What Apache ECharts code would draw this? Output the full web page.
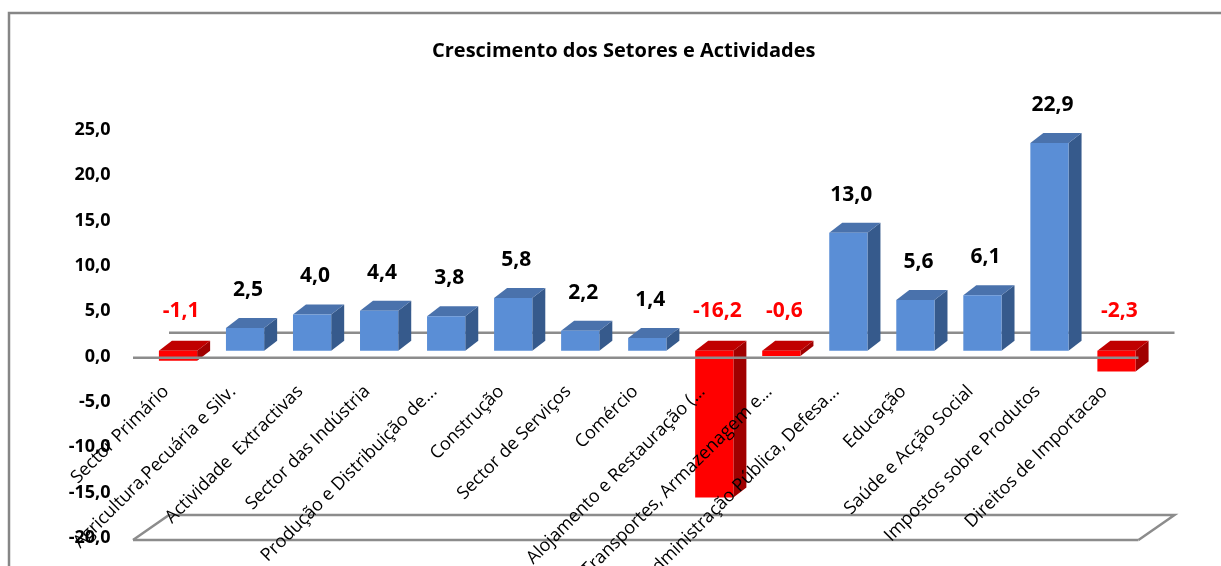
<!DOCTYPE html>
<html>
<head>
<meta charset="utf-8">
<style>html,body{margin:0;padding:0;background:#fff;}#c{width:1221px;height:566px;}</style>
<script src="https://cdn.jsdelivr.net/npm/echarts@6/dist/echarts.min.js"></script>
</head>
<body>
<div id="c"></div>
<script>
const chartTitle = 'Crescimento dos Setores e Actividades';
const categories = ['Sector Primário', 'Agricultura,Pecuária e Silv.', 'Actividade  Extractivas', 'Sector das Indústria', 'Produção e Distribuição de...', 'Construção', 'Sector de Serviços', 'Comércio', 'Alojamento e Restauração (...', 'Transportes, Armazenagem e...', 'Administração Pública, Defesa...', 'Educação', 'Saúde e Acção Social', 'Impostos sobre Produtos', 'Direitos de Importacao'];
const values = [-1.1, 2.5, 4.0, 4.4, 3.8, 5.8, 2.2, 1.4, -16.2, -0.6, 13.0, 5.6, 6.1, 22.9, -2.3];
const yMin = -20, yMax = 25, yStep = 5;

const fmt = v => v.toFixed(1).replace('.', ',');
const FONT = '"Open Sans", "Liberation Sans", sans-serif';

const chart = echarts.init(document.getElementById('c'));

function planeLines(api, which) {
  const c0 = api.coord([0, 0])[0];
  const cN = api.coord([categories.length - 1, 0])[0];
  const band = api.size([1, 0])[0];
  const xL = c0 - band / 2 - 11.5;
  const xR = cN + band / 2 - 11.5;
  const dX = 36, dY = -25;
  const yZero = api.coord([0, 0])[1] + 1;
  const yFloor = api.coord([0, yMin])[1] + 2;
  const st = { stroke: '#8c8c8c', lineWidth: 2.5, fill: null };
  const ch = [];
  if (which === 'back') {
    ch.push({ type: 'polyline', shape: { points: [[xL + dX, yZero + dY], [xR + dX, yZero + dY]] }, style: st });
    ch.push({ type: 'polyline', shape: { points: [[xL, yFloor], [xL + dX, yFloor + dY], [xR + dX, yFloor + dY], [xR, yFloor]] }, style: st });
  } else {
    ch.push({ type: 'polyline', shape: { points: [[xL, yZero], [xR, yZero]] }, style: st });
    ch.push({ type: 'polyline', shape: { points: [[xL, yFloor], [xR, yFloor]] }, style: st });
  }
  return { type: 'group', children: ch };
}

const option = {
  animation: false,
  backgroundColor: '#fff',
  title: {
    text: chartTitle, left: 427, top: 36,
    textStyle: { fontFamily: FONT, fontWeight: 'bold', fontSize: 20, color: '#000' }
  },
  graphic: [{
    type: 'rect', shape: { x: 9, y: 13, width: 1300, height: 700 },
    style: { fill: null, stroke: '#868686', lineWidth: 2.5 }, silent: true
  }],
  grid: { left: 144.5, right: 71, top: 130, bottom: 28, containLabel: false, outerBoundsMode: 'none' },
  xAxis: {
    type: 'category', data: categories,
    axisLine: { show: false }, axisTick: { show: false },
    axisLabel: { show: false }, splitLine: { show: false }
  },
  yAxis: {
    type: 'value', min: yMin, max: yMax, interval: yStep,
    axisLine: { show: false }, axisTick: { show: false }, splitLine: { show: false },
    axisLabel: {
      margin: 34, formatter: v => fmt(v),
      fontFamily: FONT, fontWeight: 'bold', fontSize: 18, color: '#000'
    }
  },
  series: [
    {
      type: 'custom', z: 1, data: [[0]], silent: true,
      renderItem: (p, api) => planeLines(api, 'back')
    },
    {
      type: 'custom', z: 2,
      data: values.map((v, i) => [i, v]),
      renderItem: (params, api) => {
        const i = api.value(0), v = api.value(1);
        const p0 = api.coord([i, 0]), p1 = api.coord([i, v]);
        const band = api.size([1, 0])[0];
        const w = band * 0.57;
        const dx = 13, dy = -10, lift = -6;
        const cx = p0[0];
        const x0 = cx - w / 2, x1 = cx + w / 2;
        const yb = p0[1] + lift, yt = p1[1] + lift;
        const top = Math.min(yb, yt), bot = Math.max(yb, yt);
        const pos = v >= 0;
        const cFront = pos ? '#5a8ed6' : '#ff0000';
        const cSide = pos ? '#365a8c' : '#a00000';
        const cTop = pos ? '#4a72ac' : '#c00000';
        const labelY = pos ? yt - 38 : yb - 40;
        return {
          type: 'group',
          children: [
            { type: 'polygon', shape: { points: [[x1, top], [x1 + dx, top + dy], [x1 + dx, bot + dy], [x1, bot]] }, style: { fill: cSide } },
            { type: 'polygon', shape: { points: [[x0, top], [x0 + dx, top + dy], [x1 + dx, top + dy], [x1, top]] }, style: { fill: cTop } },
            { type: 'rect', shape: { x: x0, y: top, width: w, height: bot - top }, style: { fill: cFront } },
            { type: 'text', x: cx + 3, y: labelY, style: {
                text: fmt(v), textAlign: 'center', textVerticalAlign: 'middle',
                font: 'bold 21px ' + FONT, fill: pos ? '#000' : '#ff0000' } }
          ]
        };
      }
    },
    {
      type: 'custom', z: 3, data: [[0]], silent: true,
      renderItem: (p, api) => planeLines(api, 'front')
    },
    {
      type: 'custom', z: 4, silent: true,
      data: categories.map((c, i) => [i, 0]),
      renderItem: (params, api) => {
        const i = api.value(0);
        const p = api.coord([i, 0]);
        return {
          type: 'text', x: p[0] - 12, y: p[1] + 32, rotation: Math.PI / 4,
          style: { text: categories[i], textAlign: 'right', textVerticalAlign: 'middle',
                   font: '18px ' + FONT, fill: '#000' }
        };
      }
    }
  ]
};
chart.setOption(option);
</script>
</body>
</html>
